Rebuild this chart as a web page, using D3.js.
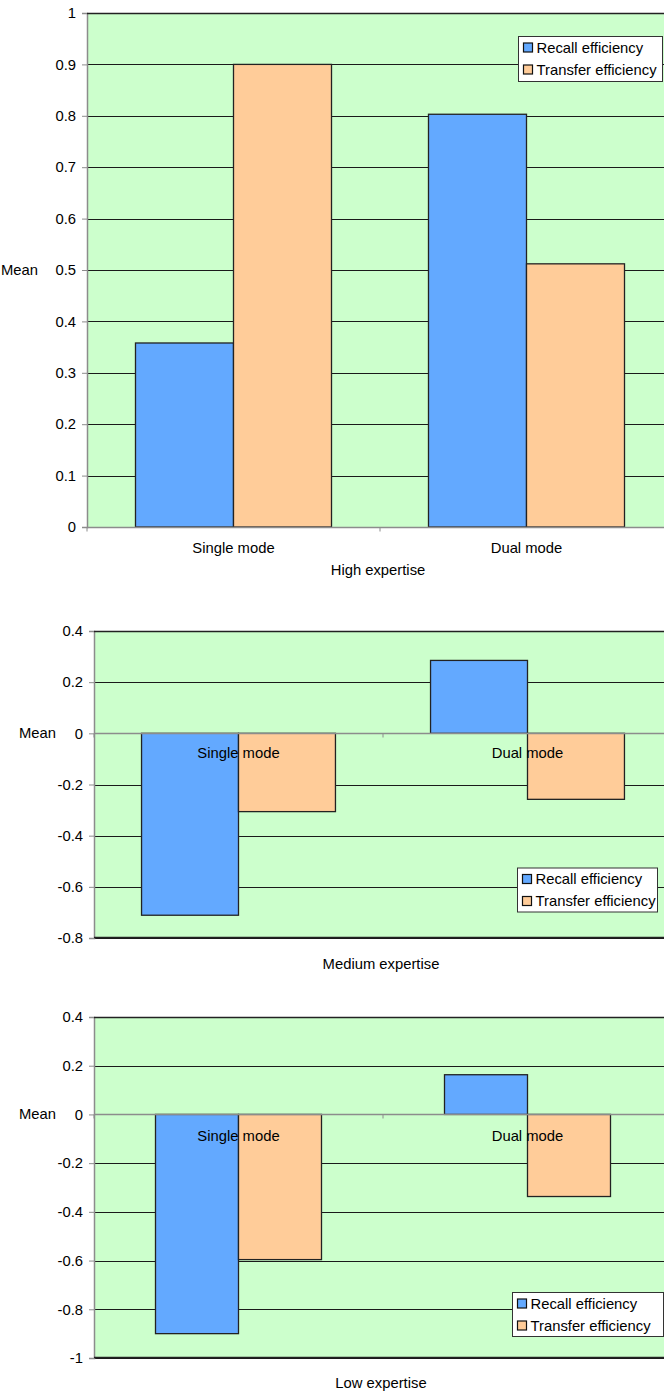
<!DOCTYPE html>
<html><head><meta charset="utf-8">
<script src="https://cdn.jsdelivr.net/npm/d3@7"></script>
<style>
html,body{margin:0;padding:0;background:#fff;}
svg{display:block;font-family:"Liberation Sans",Arial,sans-serif;}
</style></head>
<body>
<svg id="c" width="664" height="1394"></svg>
<script>
const categories = ["Single mode", "Dual mode"];
const seriesNames = ["Recall efficiency", "Transfer efficiency"];
const seriesColors = ["#63A9FF", "#FFCC99"];

const highRecall = [0.358, 0.803];
const highTransfer = [0.900, 0.512];
const mediumRecall = [-0.711, 0.285];
const mediumTransfer = [-0.306, -0.258];
const lowRecall = [-0.900, 0.163];
const lowTransfer = [-0.596, -0.337];

const highTicks = [0, 0.1, 0.2, 0.3, 0.4, 0.5, 0.6, 0.7, 0.8, 0.9, 1];
const mediumTicks = [-0.8, -0.6, -0.4, -0.2, 0, 0.2, 0.4];
const lowTicks = [-1, -0.8, -0.6, -0.4, -0.2, 0, 0.2, 0.4];

const titles = ["High expertise", "Medium expertise", "Low expertise"];
const yTitle = "Mean";

const svg = d3.select("#c");
const FS = 14.8;

const charts = [
  {recall: highRecall, transfer: highTransfer, ticks: highTicks, title: titles[0],
   left: 87, right: 673, top: 13, bottom: 527, pad: 0.331,
   labelRight: 76, catDy: 20, catBelowAxis: true,
   titleX: 378, titleY: 570, meanX: 1, meanY: 270,
   legend: {x: 518, y: 36, w: 144, h: 45}},
  {recall: mediumRecall, transfer: mediumTransfer, ticks: mediumTicks, title: titles[1],
   left: 94, right: 672, top: 631, bottom: 938, pad: 0.329,
   labelRight: 83, catDy: 19, catBelowAxis: false,
   titleX: 381, titleY: 964, meanX: 19, meanY: 733,
   legend: {x: 517, y: 867.5, w: 140, h: 44}},
  {recall: lowRecall, transfer: lowTransfer, ticks: lowTicks, title: titles[2],
   left: 94, right: 672, top: 1017, bottom: 1358, pad: 0.4256,
   labelRight: 83, catDy: 21, catBelowAxis: false,
   titleX: 381, titleY: 1383, meanX: 19, meanY: 1114,
   legend: {x: 512, y: 1292, w: 151, h: 44}}
];

charts.forEach(ch => {
  const g = svg.append("g");
  const tmin = d3.min(ch.ticks), tmax = d3.max(ch.ticks);
  const y = d3.scaleLinear().domain([tmin, tmax]).range([ch.bottom, ch.top]);
  const x = d3.scaleBand().domain(categories).range([ch.left, ch.right])
    .paddingInner(ch.pad).paddingOuter(ch.pad / 2);
  const xs = d3.scaleBand().domain(seriesNames).range([0, x.bandwidth()]);

  // plot background
  g.append("rect").attr("x", ch.left).attr("y", ch.top)
    .attr("width", ch.right - ch.left).attr("height", ch.bottom - ch.top)
    .attr("fill", "#CCFFCC");

  // gridlines (excluding zero line)
  g.selectAll("line.grid").data(ch.ticks.filter(t => t !== 0))
    .join("line").attr("class", "grid")
    .attr("x1", ch.left).attr("x2", ch.right)
    .attr("y1", d => Math.round(y(d)) + 0.5).attr("y2", d => Math.round(y(d)) + 0.5)
    .attr("stroke", "#1a1a1a").attr("stroke-width", 1.2);

  // bars
  const data = [];
  categories.forEach((c, i) => {
    data.push({cat: c, s: seriesNames[0], v: ch.recall[i], col: seriesColors[0]});
    data.push({cat: c, s: seriesNames[1], v: ch.transfer[i], col: seriesColors[1]});
  });
  g.selectAll("rect.bar").data(data).join("rect").attr("class", "bar")
    .attr("x", d => x(d.cat) + xs(d.s))
    .attr("width", xs.bandwidth())
    .attr("y", d => y(Math.max(0, d.v)))
    .attr("height", d => Math.abs(y(d.v) - y(0)))
    .attr("fill", d => d.col)
    .attr("stroke", "#222").attr("stroke-width", 1.3);

  // x axis (zero line) in gray
  const y0 = Math.round(y(0)) + 0.5;
  g.append("line").attr("x1", ch.left).attr("x2", ch.right)
    .attr("y1", y0).attr("y2", y0).attr("stroke", "#8c8c8c").attr("stroke-width", 1.3);
  // category boundary ticks
  const step = x.step();
  const bounds = d3.range(categories.length + 1).map(i => ch.left + i * step);
  g.selectAll("line.xt").data(bounds).join("line").attr("class", "xt")
    .attr("x1", d => d).attr("x2", d => d)
    .attr("y1", y0).attr("y2", y0 + 4)
    .attr("stroke", "#8c8c8c").attr("stroke-width", 1);

  // left axis
  const yAxis = d3.axisLeft(y).tickValues(ch.ticks).tickSize(5).tickPadding(ch.left - ch.labelRight - 5)
    .tickFormat(d => d3.format("")(+d.toFixed(1)).replace("−", "-"));
  const ag = g.append("g").attr("transform", `translate(${ch.left},0)`).call(yAxis);
  ag.select(".domain").attr("stroke", "#8c8c8c").attr("stroke-width", 1.5);
  ag.selectAll(".tick line").attr("stroke", "#8c8c8c");
  ag.selectAll(".tick text").attr("font-size", FS).attr("fill", "#000")
    .attr("font-family", "'Liberation Sans', Arial, sans-serif");

  // top border and bottom border (dark)
  g.append("line").attr("x1", ch.left).attr("x2", ch.right)
    .attr("y1", ch.top + 0.5).attr("y2", ch.top + 0.5).attr("stroke", "#222").attr("stroke-width", 1.5);
  if (tmin !== 0) {
    g.append("line").attr("x1", ch.left).attr("x2", ch.right)
      .attr("y1", ch.bottom - 0.5).attr("y2", ch.bottom - 0.5).attr("stroke", "#222").attr("stroke-width", 1.5);
  }

  // category labels
  g.selectAll("text.cat").data(categories).join("text").attr("class", "cat")
    .attr("x", d => x(d) + x.bandwidth() / 2)
    .attr("y", y0 + ch.catDy)
    .attr("text-anchor", "middle").attr("dominant-baseline", "central")
    .attr("font-size", FS).attr("fill", "#000").text(d => d);

  // axis titles
  g.append("text").attr("x", ch.titleX).attr("y", ch.titleY)
    .attr("text-anchor", "middle").attr("dominant-baseline", "central")
    .attr("font-size", FS).attr("fill", "#000").text(ch.title);
  g.append("text").attr("x", ch.meanX).attr("y", ch.meanY)
    .attr("text-anchor", "start").attr("dominant-baseline", "central")
    .attr("font-size", FS).attr("fill", "#000").text(yTitle);

  // legend
  const L = ch.legend;
  const lg = g.append("g").attr("transform", `translate(${L.x},${L.y})`);
  lg.append("rect").attr("x", 0.5).attr("y", 0.5).attr("width", L.w).attr("height", L.h)
    .attr("fill", "#fff").attr("stroke", "#333").attr("stroke-width", 1);
  const rowH = L.h / 2;
  seriesNames.forEach((s, i) => {
    const cy = 11.5 + i * 22;
    lg.append("rect").attr("x", 5.5).attr("y", cy - 4.5).attr("width", 9).attr("height", 9)
      .attr("fill", seriesColors[i]).attr("stroke", "#111").attr("stroke-width", 1.2);
    lg.append("text").attr("x", 18.5).attr("y", cy)
      .attr("dominant-baseline", "central").attr("font-size", FS).attr("fill", "#000").text(s);
  });
});
</script>
</body></html>
